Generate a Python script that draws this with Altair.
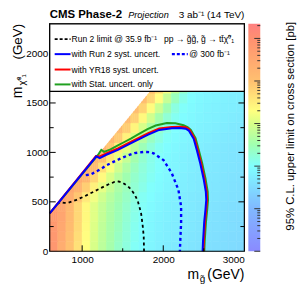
import altair as alt
import pandas as pd
import math

# ---------------- data ----------------
# heat map: log10 of the 95% CL upper limit [pb], 100 GeV x 100 GeV cells
row_mlsp_low = [0, 100, 200, 300, 400, 500, 600, 700, 800, 900, 1000, 1100, 1200, 1300, 1400, 1500, 1600]
row_first_mg = [600, 600, 600, 600, 600, 700, 800, 900, 1000, 1100, 1200, 1300, 1400, 1500, 1600, 1700, 1800]
log10_limit_rows = [
    [-0.15, -0.6, -1.0, -1.35, -1.7, -2.0, -2.25, -2.45, -2.65, -2.8, -2.95, -3.05, -3.13, -3.2, -3.25, -3.29, -3.33, -3.36, -3.39, -3.42, -3.45, -3.47, -3.5, -3.52],
    [-0.17, -0.55, -0.96, -1.32, -1.68, -1.98, -2.23, -2.43, -2.62, -2.77, -2.92, -3.03, -3.11, -3.18, -3.23, -3.27, -3.31, -3.35, -3.38, -3.41, -3.44, -3.46, -3.49, -3.51],
    [-0.2, -0.49, -0.91, -1.28, -1.66, -1.96, -2.21, -2.41, -2.58, -2.75, -2.9, -3.01, -3.1, -3.17, -3.22, -3.26, -3.3, -3.33, -3.36, -3.39, -3.42, -3.44, -3.47, -3.49],
    [-0.25, -0.43, -0.87, -1.25, -1.63, -1.93, -2.18, -2.38, -2.55, -2.72, -2.87, -2.98, -3.08, -3.15, -3.2, -3.24, -3.28, -3.31, -3.35, -3.38, -3.41, -3.43, -3.46, -3.48],
    [-0.3, -0.5, -0.85, -1.25, -1.63, -1.93, -2.17, -2.37, -2.53, -2.69, -2.84, -2.96, -3.06, -3.13, -3.18, -3.23, -3.27, -3.3, -3.34, -3.37, -3.4, -3.42, -3.45, -3.47],
    [-0.38, -0.62, -1.05, -1.45, -1.8, -2.08, -2.3, -2.48, -2.64, -2.79, -2.93, -3.02, -3.1, -3.16, -3.21, -3.25, -3.29, -3.32, -3.34, -3.37, -3.4, -3.42, -3.44],
    [-0.47, -0.72, -1.15, -1.54, -1.89, -2.18, -2.4, -2.58, -2.73, -2.86, -2.98, -3.06, -3.13, -3.19, -3.23, -3.26, -3.3, -3.33, -3.35, -3.38, -3.41, -3.43],
    [-0.56, -0.82, -1.25, -1.64, -1.99, -2.28, -2.5, -2.68, -2.81, -2.93, -3.03, -3.1, -3.16, -3.21, -3.25, -3.28, -3.32, -3.34, -3.36, -3.39, -3.41],
    [-0.65, -0.92, -1.35, -1.74, -2.08, -2.37, -2.6, -2.77, -2.89, -2.99, -3.08, -3.13, -3.19, -3.23, -3.27, -3.3, -3.33, -3.35, -3.37, -3.39],
    [-0.74, -1.02, -1.45, -1.83, -2.17, -2.47, -2.7, -2.87, -2.98, -3.06, -3.13, -3.18, -3.22, -3.26, -3.29, -3.31, -3.34, -3.36, -3.38],
    [-0.8, -1.08, -1.52, -1.91, -2.25, -2.55, -2.77, -2.93, -3.03, -3.1, -3.15, -3.19, -3.23, -3.27, -3.3, -3.32, -3.35, -3.37],
    [-0.84, -1.12, -1.56, -1.96, -2.32, -2.62, -2.82, -2.97, -3.05, -3.11, -3.16, -3.2, -3.23, -3.27, -3.29, -3.31, -3.34],
    [-0.87, -1.15, -1.59, -2.01, -2.39, -2.68, -2.87, -3.0, -3.07, -3.12, -3.17, -3.2, -3.23, -3.26, -3.29, -3.31],
    [-0.9, -1.19, -1.63, -2.07, -2.45, -2.74, -2.92, -3.03, -3.09, -3.14, -3.17, -3.2, -3.23, -3.26, -3.28],
    [-0.93, -1.22, -1.67, -2.12, -2.52, -2.81, -2.97, -3.06, -3.11, -3.15, -3.18, -3.21, -3.23, -3.26],
    [-0.96, -1.25, -1.7, -2.17, -2.59, -2.87, -3.02, -3.09, -3.13, -3.16, -3.19, -3.21, -3.23],
    [-0.98, -1.28, -1.74, -2.23, -2.65, -2.93, -3.06, -3.11, -3.15, -3.18, -3.2, -3.21],
]
cell_size = 100

# kinematic edge m_LSP = m_gluino - 217 GeV (nothing is drawn above it)
edge_offset = 217
diag_mg = [600, 1000, 1500, 2000, 2517]
diag_mlsp = [383, 783, 1283, 1783, 2300]

# contours
run2_mg = [695, 730, 780, 829, 930, 1032, 1136, 1236, 1320, 1399, 1450, 1502, 1560, 1604, 1650, 1686, 1726, 1745, 1759, 1763]
run2_mlsp = [478, 498, 490, 490, 520, 557, 600, 641, 675, 701, 706, 691, 660, 624, 570, 507, 389, 270, 151, 0]

p300_mg = [1045, 1100, 1160, 1237, 1300, 1441, 1550, 1644, 1760, 1830, 1881, 2003, 2105, 2187, 2220, 2220, 2212, 2205]
p300_mlsp = [770, 775, 800, 835, 870, 926, 965, 993, 1005, 1003, 990, 922, 789, 621, 453, 286, 150, 0]

run2syst_mg = [600, 1175, 1216, 1298, 1441, 1604, 1808, 1950, 2106, 2200, 2277, 2314, 2375, 2415, 2457, 2497, 2525, 2530, 2520, 2505, 2497, 2490, 2485]
run2syst_mlsp = [383, 960, 943, 976, 1026, 1093, 1177, 1227, 1244, 1247, 1240, 1221, 1137, 1020, 885, 734, 600, 520, 420, 300, 190, 100, 0]

yr18_mg = [600, 1170, 1210, 1298, 1441, 1604, 1808, 1950, 2106, 2200, 2277, 2320, 2385, 2425, 2467, 2507, 2535, 2540, 2530, 2515, 2507, 2500, 2495]
yr18_mlsp = [383, 962, 958, 990, 1040, 1108, 1192, 1242, 1258, 1260, 1254, 1234, 1145, 1025, 890, 740, 604, 520, 420, 300, 190, 100, 0]

stat_mg = [600, 1205, 1236, 1270, 1350, 1441, 1497, 1600, 1701, 1806, 1906, 2044, 2150, 2250, 2300, 2340, 2398, 2438, 2480, 2520, 2548, 2552, 2542, 2527, 2518, 2511, 2506]
stat_mlsp = [383, 985, 1026, 1005, 1030, 1070, 1095, 1140, 1187, 1235, 1272, 1298, 1295, 1275, 1255, 1228, 1145, 1025, 890, 740, 604, 520, 420, 300, 190, 100, 0]

# colour scale (log10 pb) and colour bar
stop_vals = [-5, -4, -3, -2.5, -2, -1.7, -1, 0, 0.34]
stop_cols = ["#8a8aff", "#80b8ff", "#80ffff", "#a0ffb0", "#d8ff88", "#ffff80", "#ffc070", "#ff9070", "#ff8080"]
cbar_min, cbar_max = 1e-5, 2.2
cbar_labels = [1e-5, 1e-4, 1e-3, 1e-2, 1e-1, 1]

x_ticks_major = [1000, 2000]
x_ticks_minor = [1500, 2500]
y_ticks_major = [500, 1000, 1500, 2000]
y_ticks_minor = [250, 750, 1250, 1750, 2250]

legend_left = ["Run 2 limit @ 35.9 fb\u207b\u00b9", "with Run 2 syst. uncert.", "with YR18 syst. uncert.", "with Stat. uncert. only"]
process_text = "pp \u2192 g\u0303g\u0303, g\u0303 \u2192 tt\u0304\u03c7\u0303\u2070\u2081"
p300_text = "@ 300 fb\u207b\u00b9"
cbar_title = "95% C.L. upper limit on cross section [pb]"

# ---------------- build tables ----------------
# cells crossing the kinematic edge are cut into 25 GeV strips so nothing pokes above it
cells = []
strip = 25
for lo, first, vals in zip(row_mlsp_low, row_first_mg, log10_limit_rows):
    for k, v in enumerate(vals):
        c = first + k * cell_size
        hi = lo + cell_size
        if hi <= c - edge_offset:
            cells.append({"mg": c, "mg2": c + cell_size, "ml": lo, "ml2": hi, "v": v})
            continue
        for s in range(c, c + cell_size, strip):
            top = min(hi, s + strip / 2 - edge_offset)
            if top > lo:
                cells.append({"mg": s, "mg2": s + strip, "ml": lo, "ml2": top, "v": v})
heat_df = pd.DataFrame(cells)

W, H = 196, 229
FONT = "Liberation Sans"
xs = alt.Scale(domain=[600, 3000], nice=False, zero=False)
ys = alt.Scale(domain=[0, 2300], nice=False, zero=False)
cs = alt.Scale(domain=stop_vals, range=stop_cols, interpolate="rgb", clamp=True)
one = alt.Data(values=[{"a": 1}])

heat = alt.Chart(heat_df).mark_rect(strokeWidth=0.6).encode(
    x=alt.X("mg:Q", scale=xs, axis=alt.Axis(values=[1000, 2000, 3000], title=None, ticks=False, domain=False,
                                           grid=False, labelFontSize=10, labelPadding=3, labelFont=FONT,
                                           labelColor="black", format="d")),
    x2="mg2:Q",
    y=alt.Y("ml:Q", scale=ys, axis=alt.Axis(values=[0, 500, 1000, 1500, 2000], title=None, ticks=False,
                                           domain=False, grid=False, labelFontSize=10, labelPadding=2,
                                           labelFont=FONT, labelColor="black", format="d")),
    y2="ml2:Q",
    color=alt.Color("v:Q", scale=cs, legend=None),
    stroke=alt.Stroke("v:Q", scale=cs, legend=None),
)

mask_df = pd.DataFrame({"mg": diag_mg, "ml": diag_mlsp, "top": [2300] * len(diag_mg)})
mask = alt.Chart(mask_df).mark_area(fill="white").encode(
    x=alt.X("mg:Q", scale=xs), y=alt.Y("ml:Q", scale=ys), y2="top:Q")


def curve(mg, ml, color, width=2.0, dash=None):
    df = pd.DataFrame({"mg": mg, "ml": ml, "i": list(range(len(mg)))})
    kw = dict(color=color, strokeWidth=width)
    if dash is not None:
        kw["strokeDash"] = dash
    return alt.Chart(df).mark_line(**kw).encode(
        x=alt.X("mg:Q", scale=xs), y=alt.Y("ml:Q", scale=ys), order=alt.Order("i:Q"))


lines = [
    curve(run2_mg, run2_mlsp, "black", 1.8, [3, 3]),
    curve(p300_mg, p300_mlsp, "#0000ff", 2.4, [3, 3]),
    curve(stat_mg, stat_mlsp, "#20a020", 2.0),
    curve(yr18_mg, yr18_mlsp, "#ff0000", 2.0),
    curve(run2syst_mg, run2syst_mlsp, "#0000ff", 2.0),
]


def xticks(vals, ln):
    return alt.Chart(pd.DataFrame({"mg": vals})).mark_rule(color="black", strokeWidth=1).encode(
        x=alt.X("mg:Q", scale=xs), y=alt.value(H), y2=alt.value(H - ln))


def yticks(vals, ln):
    d = pd.DataFrame({"ml": vals})
    left = alt.Chart(d).mark_rule(color="black", strokeWidth=1).encode(
        y=alt.Y("ml:Q", scale=ys), x=alt.value(0), x2=alt.value(ln))
    right = alt.Chart(d).mark_rule(color="black", strokeWidth=1).encode(
        y=alt.Y("ml:Q", scale=ys), x=alt.value(W), x2=alt.value(W - ln))
    return [left, right]


ticks = [xticks(x_ticks_major, 6), xticks(x_ticks_minor, 3)] + yticks(y_ticks_major, 6) + yticks(y_ticks_minor, 4)

frame = alt.Chart(one).mark_rect(fillOpacity=0, stroke="black", strokeWidth=1.2).encode(
    x=alt.value(0), x2=alt.value(W), y=alt.value(0), y2=alt.value(H))

leg_box = alt.Chart(one).mark_rect(fill="white", stroke="black", strokeWidth=1.3).encode(
    x=alt.value(0), x2=alt.value(W), y=alt.value(0), y2=alt.value(68))

row_y = [15.3, 30.5, 46, 61]


def sample(x1, x2, y, color, width=2.0, dash=None):
    kw = dict(color=color, strokeWidth=width)
    if dash is not None:
        kw["strokeDash"] = dash
    return alt.Chart(one).mark_rule(**kw).encode(
        x=alt.value(x1), x2=alt.value(x2), y=alt.value(y))


samples = [
    sample(5, 21, row_y[0], "black", 1.8, [3, 2]),
    sample(5, 21, row_y[1], "#0000ff"),
    sample(5, 21, row_y[2], "#ff0000"),
    sample(5, 21, row_y[3], "#20a020"),
    sample(123, 139, row_y[1], "#0000ff", 2.4, [3, 2]),
]


def label(text, x, y, size, align="left", baseline="middle", angle=0, weight="normal", style="normal"):
    return alt.Chart(one).mark_text(text=text, align=align, baseline=baseline, angle=angle, fontSize=size,
                                    font=FONT, fontWeight=weight, fontStyle=style, color="black").encode(
        x=alt.value(x), y=alt.value(y))


texts = [label(t, 22, y, 8.6) for t, y in zip(legend_left, row_y)]
texts += [label(process_text, 115, row_y[0], 8.6), label(p300_text, 140.5, row_y[1], 8.6)]
texts += [
    label("CMS Phase-2", 0, -5.5, 11.5, baseline="alphabetic", weight="bold"),
    label("Projection", 79, -5.5, 9.2, baseline="alphabetic", style="italic"),
    label("3 ab\u207b\u00b9 (14 TeV)", W, -5.5, 10, align="right", baseline="alphabetic"),
    # x title
    label("(GeV)", W, 257, 14, align="right", baseline="alphabetic"),
    label("g\u0303", 151, 260, 10, align="left", baseline="alphabetic"),
    label("m", 150.5, 257, 14, align="right", baseline="alphabetic"),
    # y title
    label("(GeV)", -28, 0, 13.5, align="right", baseline="alphabetic", angle=270),
    label("m", -28, 75, 14, align="left", baseline="alphabetic", angle=270),
    label("\u03c7\u0303\u2070\u2081", -25, 62, 9.5, align="left", baseline="alphabetic", angle=270),
]

main = alt.layer(heat, mask, *lines, *ticks, frame, leg_box, *samples, *texts).properties(width=W, height=H)

# ---------------- colour bar ----------------
lo_log = math.log10(cbar_min)
span = math.log10(cbar_max) - lo_log
grad = alt.LinearGradient(
    gradient="linear",
    stops=[alt.GradientStop(color=c, offset=max(0.0, min(1.0, (v - lo_log) / span)))
           for v, c in zip(stop_vals, stop_cols)],
    x1=0, x2=0, y1=1, y2=0)
cbs = alt.Scale(type="log", domain=[cbar_min, cbar_max], nice=False)
cb_df = pd.DataFrame({"lo": [cbar_min], "hi": [cbar_max]})
sup_expr = ("datum.value >= 1 ? '1' : '10' + ['\u207b\u2070','\u207b\u00b9','\u207b\u00b2','\u207b\u00b3',"
            "'\u207b\u2074','\u207b\u2075'][round(-log(datum.value)/LN10)]")
cb_rect = alt.Chart(cb_df).mark_rect(color=grad).encode(
    y=alt.Y("lo:Q", scale=cbs, axis=alt.Axis(orient="right", values=cbar_labels, title=None, ticks=False,
                                           domain=False, grid=False, labelFontSize=10, labelPadding=3,
                                           labelFont=FONT, labelColor="black", labelExpr=sup_expr)),
    y2="hi:Q", x=alt.value(0), x2=alt.value(12))

minor_cb = [m * 10.0 ** e for e in range(-5, 1) for m in range(2, 10) if m * 10.0 ** e <= cbar_max]
cb_major = alt.Chart(pd.DataFrame({"v": cbar_labels})).mark_rule(color="#333333").encode(
    y=alt.Y("v:Q", scale=cbs, axis=None), x=alt.value(12), x2=alt.value(6))
cb_minor = alt.Chart(pd.DataFrame({"v": minor_cb})).mark_rule(color="#333333").encode(
    y=alt.Y("v:Q", scale=cbs, axis=None), x=alt.value(12), x2=alt.value(9))
cb_title = alt.Chart(one).mark_text(text=cbar_title, angle=270, align="right", baseline="alphabetic",
                                    fontSize=11.4, font=FONT, color="black").encode(
    x=alt.value(46), y=alt.value(-2))

cbar = alt.layer(cb_rect, cb_major, cb_minor, cb_title).properties(width=12, height=H)

chart = alt.hconcat(main, cbar, spacing=4, bounds="flush",
                    padding={"left": 3, "top": 0, "right": 0, "bottom": 0}).configure_view(strokeWidth=0)
chart.save("out.html", embed_options={"renderer": "svg", "actions": False})
